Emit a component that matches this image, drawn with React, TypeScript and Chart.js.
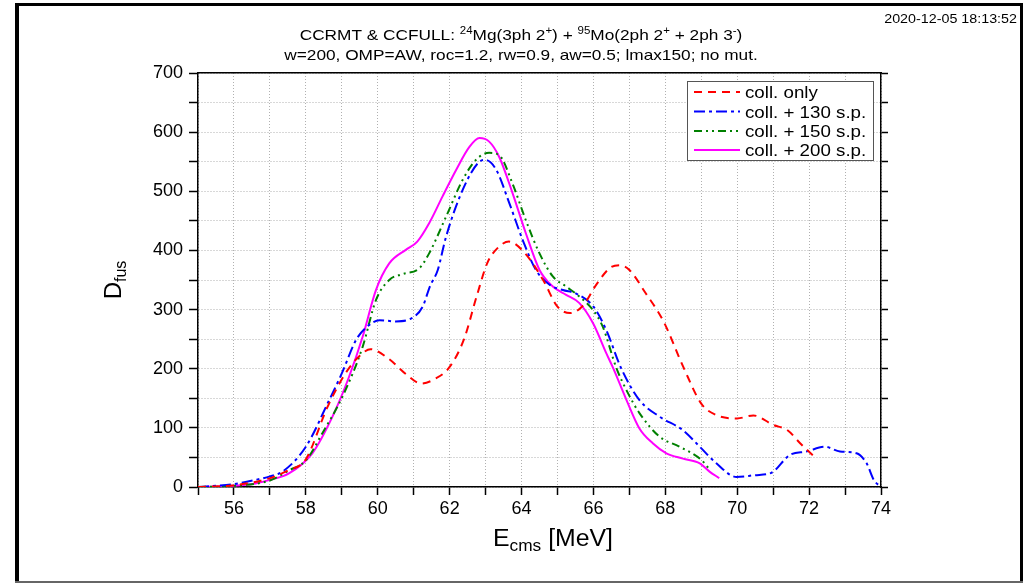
import React, { useEffect, useRef } from "react";
import { Chart, registerables } from "chart.js";

Chart.register(...registerables);

// ---- data (E_cms in MeV, D_fus) ----
const collOnlyE = [55, 56, 57, 57.5, 58, 58.6, 59.1, 59.5, 59.8, 60.3, 60.8, 61.2, 61.6, 62.0, 62.4, 62.75, 63.05, 63.35, 63.65, 64.1, 64.6, 65.0, 65.35, 65.7, 66.1, 66.5, 66.75, 67.0, 67.45, 67.95, 68.5, 69.0, 69.4, 70.0, 70.45, 71.0, 71.4, 71.75, 72.2];
const collOnlyD = [0, 3, 15, 28, 47, 135, 192, 222, 233, 217, 190, 175, 183, 203, 250, 322, 379, 405, 415, 395, 350, 305, 294, 306, 344, 372, 375, 367, 328, 280, 203, 141, 122, 116, 121, 105, 96, 74, 48];

const sp130E = [55, 55.5, 56, 56.6, 57, 57.35, 58.0, 58.65, 59.0, 59.4, 59.7, 60.05, 60.5, 60.9, 61.25, 61.45, 61.67, 61.9, 62.36, 62.83, 63.0, 63.3, 63.66, 64.03, 64.4, 64.78, 65.15, 65.52, 66.0, 66.36, 66.77, 67.28, 67.84, 68.49, 68.96, 69.42, 69.98, 70.5, 70.95, 71.46, 71.93, 72.44, 72.86, 73.32, 73.6, 73.8, 74.0];
const sp130D = [0, 2, 5, 12, 18, 26, 68, 147, 192, 249, 271, 282, 280, 284, 305, 339, 367, 423, 502, 550, 553, 536, 480, 418, 367, 342, 333, 327, 305, 265, 201, 147, 119, 96, 68, 40, 17, 20, 24, 54, 60, 68, 60, 57, 40, 12, 0];

const sp150E = [55, 56, 57, 57.53, 58.0, 58.46, 59.02, 59.58, 59.95, 60.32, 60.69, 61.16, 61.43, 61.9, 62.36, 62.73, 63.1, 63.38, 63.75, 64.12, 64.5, 64.87, 65.24, 65.61, 65.99, 66.26, 66.64, 66.95, 67.28, 67.84, 68.4, 69.0, 69.2];
const sp150D = [0, 2, 11, 28, 45, 91, 153, 237, 316, 350, 360, 370, 395, 457, 519, 553, 565, 561, 513, 451, 395, 356, 339, 322, 299, 271, 201, 160, 125, 85, 68, 46, 32];

const sp200E = [55, 56, 56.6, 57.0, 57.53, 58.18, 58.74, 59.2, 59.58, 59.95, 60.32, 60.78, 61.1, 61.43, 61.8, 62.18, 62.55, 62.83, 63.1, 63.38, 63.75, 64.12, 64.5, 64.87, 65.24, 65.61, 65.99, 66.36, 66.55, 66.9, 67.28, 67.65, 68.03, 68.49, 68.96, 69.23, 69.5];
const sp200D = [0, 2, 6, 12, 23, 57, 119, 186, 254, 333, 378, 401, 415, 446, 491, 536, 575, 590, 584, 558, 497, 429, 367, 339, 325, 311, 277, 226, 201, 150, 99, 74, 57, 48, 40, 26, 15];

const seriesLabels = ["coll. only", "coll. + 130 s.p.", "coll. + 150 s.p.", "coll. + 200 s.p."];
const seriesColors = ["#ff0000", "#0000ff", "#008000", "#ff00ff"];
const seriesDashes: number[][] = [[8, 6], [11, 4, 3, 4], [8, 4, 2, 4, 2, 4], []];

const xMin = 55;
const xMax = 74;
const yMin = 0;
const yMax = 700;

const FONT = '"Liberation Sans", Arial, sans-serif';
const SX = 1.15;

type Part = { t: string; size: number; dy?: number };

function drawParts(ctx: CanvasRenderingContext2D, parts: Part[], x: number, y: number, align: string, sx: number) {
  let w = 0;
  const widths: number[] = [];
  for (const p of parts) {
    ctx.font = `${p.size}px ${FONT}`;
    const m = ctx.measureText(p.t).width;
    widths.push(m);
    w += m;
  }
  const start = align === "center" ? -w / 2 : align === "right" ? -w : 0;
  ctx.save();
  ctx.translate(x, y);
  ctx.scale(sx, 1);
  ctx.textAlign = "left";
  ctx.textBaseline = "alphabetic";
  ctx.fillStyle = "#000";
  let cx = start;
  parts.forEach((p, i) => {
    ctx.font = `${p.size}px ${FONT}`;
    ctx.fillText(p.t, cx, p.dy || 0);
    cx += widths[i];
  });
  ctx.restore();
}

const zip = (e: number[], d: number[]) => e.map((x, i) => ({ x, y: d[i] }));

const framePlugin = {
  id: "frameAndText",
  beforeDraw(chart: any) {
    const ctx: CanvasRenderingContext2D = chart.ctx;
    ctx.save();
    ctx.fillStyle = "#fff";
    ctx.fillRect(0, 0, chart.width, chart.height);
    ctx.fillStyle = "#000";
    ctx.fillRect(15, 3, 4, 580);
    ctx.fillRect(15, 3, 1008, 3);
    ctx.fillRect(1020, 3, 3, 580);
    ctx.fillStyle = "#666";
    ctx.fillRect(15, 581, 1008, 2);
    ctx.restore();
  },
  afterDraw(chart: any) {
    const ctx: CanvasRenderingContext2D = chart.ctx;
    // timestamp
    drawParts(ctx, [{ t: "2020-12-05 18:13:52", size: 13 }], 1017, 23, "right", 1.1);
    // title
    const sup = 10;
    drawParts(
      ctx,
      [
        { t: "CCRMT & CCFULL: ", size: 15 },
        { t: "24", size: sup, dy: -6 },
        { t: "Mg(3ph 2", size: 15 },
        { t: "+", size: sup, dy: -6 },
        { t: ") + ", size: 15 },
        { t: "95", size: sup, dy: -6 },
        { t: "Mo(2ph 2", size: 15 },
        { t: "+", size: sup, dy: -6 },
        { t: " + 2ph 3", size: 15 },
        { t: "-", size: sup, dy: -6 },
        { t: ")", size: 15 },
      ],
      521,
      40,
      "center",
      SX
    );
    drawParts(ctx, [{ t: "w=200, OMP=AW, roc=1.2, rw=0.9, aw=0.5; lmax150; no mut.", size: 15 }], 521, 60, "center", SX);
    // axis titles
    drawParts(
      ctx,
      [
        { t: "E", size: 23 },
        { t: "cms", size: 16, dy: 5 },
        { t: " [MeV]", size: 23 },
      ],
      553,
      546,
      "center",
      1.08
    );
    ctx.save();
    ctx.translate(121, 280);
    ctx.rotate(-Math.PI / 2);
    drawParts(
      ctx,
      [
        { t: "D", size: 24 },
        { t: "fus", size: 16, dy: 5 },
      ],
      0,
      0,
      "center",
      1
    );
    ctx.restore();
    // legend
    const lx = 687, ly = 81, lw = 186, lh = 79;
    ctx.save();
    ctx.fillStyle = "#fff";
    ctx.fillRect(lx, ly, lw, lh);
    ctx.strokeStyle = "#555";
    ctx.lineWidth = 1;
    ctx.strokeRect(lx + 0.5, ly + 0.5, lw, lh);
    const rows = [92, 111.5, 131, 150];
    seriesLabels.forEach((lab, i) => {
      ctx.save();
      ctx.strokeStyle = seriesColors[i];
      ctx.lineWidth = 2;
      ctx.setLineDash(seriesDashes[i]);
      ctx.beginPath();
      ctx.moveTo(694, rows[i]);
      ctx.lineTo(740, rows[i]);
      ctx.stroke();
      ctx.restore();
      drawParts(ctx, [{ t: lab, size: 16 }], 745, rows[i] + 6, "left", 1.17);
    });
    ctx.restore();
  },
};

export default function App() {
  const ref = useRef<HTMLCanvasElement | null>(null);
  useEffect(() => {
    if (!ref.current) return;
    const evenLabel = (v: any) => (Math.round(v) % 2 === 0 ? String(v) : "");
    const hundredLabel = (v: any) => (Math.round(v) % 100 === 0 ? String(v) : "");
    const gridCol = "#b0b0b0";
    const chart = new Chart(ref.current, {
      type: "line",
      data: {
        datasets: [
          { label: seriesLabels[0], data: zip(collOnlyE, collOnlyD) },
          { label: seriesLabels[1], data: zip(sp130E, sp130D) },
          { label: seriesLabels[2], data: zip(sp150E, sp150D) },
          { label: seriesLabels[3], data: zip(sp200E, sp200D) },
        ].map((d, i) => ({
          ...d,
          borderColor: seriesColors[i],
          backgroundColor: seriesColors[i],
          borderDash: seriesDashes[i],
          borderWidth: 2,
          pointRadius: 0,
          fill: false,
          cubicInterpolationMode: "monotone" as const,
        })),
      },
      options: {
        animation: false,
        responsive: false,
        maintainAspectRatio: false,
        layout: { padding: 0 },
        plugins: { legend: { display: false }, title: { display: false }, tooltip: { enabled: false } },
        scales: {
          x: {
            type: "linear",
            position: "bottom",
            min: xMin,
            max: xMax,
            afterFit: (s: any) => { s.height = 96; },
            ticks: { stepSize: 1, autoSkip: false, maxRotation: 0, callback: evenLabel, color: "#000", font: { family: FONT, size: 18 }, padding: 3 },
            grid: { color: gridCol, lineWidth: 1, tickLength: 8, tickColor: "#000", tickWidth: 1.5, tickBorderDash: [] },
            border: { display: true, color: "#000", width: 1.5, dash: [1, 2] },
          },
          xTop: {
            type: "linear",
            position: "top",
            min: xMin,
            max: xMax,
            afterFit: (s: any) => { s.height = 73; },
            ticks: { display: false, stepSize: 1 },
            grid: { drawOnChartArea: false, drawTicks: false },
            border: { display: true, color: "#000", width: 1.5 },
          },
          y: {
            type: "linear",
            position: "left",
            min: yMin,
            max: yMax,
            afterFit: (s: any) => { s.width = 198; },
            ticks: { stepSize: 50, autoSkip: false, callback: hundredLabel, color: "#000", font: { family: FONT, size: 18 }, padding: 6 },
            grid: { color: gridCol, lineWidth: 1, tickLength: 9, tickColor: "#000", tickWidth: 1.5, tickBorderDash: [] },
            border: { display: true, color: "#000", width: 1.5, dash: [1, 2] },
          },
          yRight: {
            type: "linear",
            position: "right",
            min: yMin,
            max: yMax,
            afterFit: (s: any) => { s.width = 147; },
            ticks: { display: false, stepSize: 50 },
            grid: { drawOnChartArea: false, tickLength: 7, tickColor: "#000", tickWidth: 1.5 },
            border: { display: true, color: "#000", width: 1.5 },
          },
        },
      },
      plugins: [framePlugin],
    } as any);
    return () => chart.destroy();
  }, []);
  return (
    <div style={{ position: "fixed", left: 0, top: 0, width: 1028, height: 583, background: "#fff" }}>
      <canvas ref={ref} width={1028} height={583} style={{ display: "block", width: 1028, height: 583 }} />
    </div>
  );
}
